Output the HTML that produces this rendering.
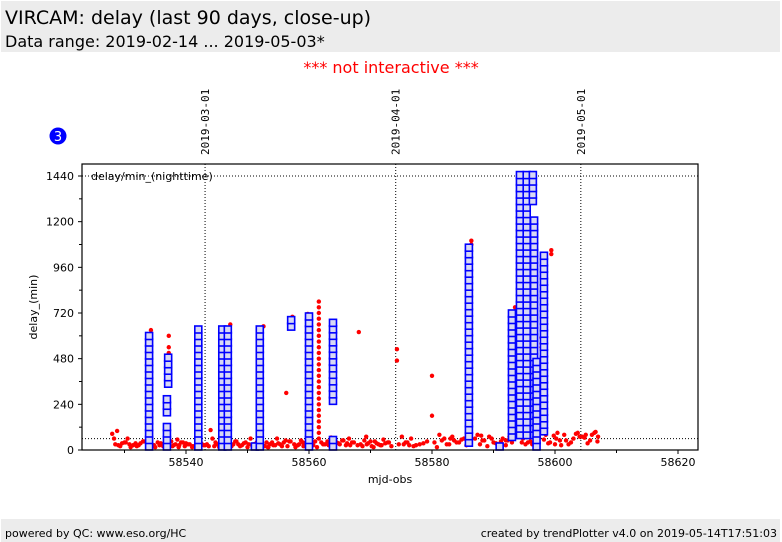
<!DOCTYPE html>
<html><head><meta charset="utf-8">
<style>
body{margin:0;width:782px;height:542px;background:#fff;font-family:"DejaVu Sans","Liberation Sans",sans-serif;position:relative;overflow:hidden}
#hdr{position:absolute;left:1px;top:1px;width:779px;height:51px;background:#ececec}
#t1{position:absolute;left:4px;top:6px;font-size:19px;color:#000}
#t2{position:absolute;left:4px;top:31px;font-size:16px;color:#000}
#ni{position:absolute;left:0;width:782px;top:58px;text-align:center;color:#f00;font-size:16px}
#ftr{position:absolute;left:1px;top:519px;width:779px;height:23px;background:#ececec;font-size:11px}
#fl{position:absolute;left:4px;top:8px}
#fr{position:absolute;right:3px;top:8px}
svg{position:absolute;left:0;top:0}
</style></head><body>
<div id="hdr">
<div id="t1">VIRCAM: delay (last 90 days, close-up)</div>
<div id="t2">Data range: 2019-02-14 ... 2019-05-03*</div>
</div>
<div id="ni">*** not interactive ***</div>
<svg id="chart" width="782" height="542"></svg>
<div id="ftr">
<span id="fl">powered by QC: www.eso.org/HC</span>
<span id="fr">created by trendPlotter v4.0 on 2019-05-14T17:51:03</span>
</div>
<script>
const xTicks=[58540,58560,58580,58600,58620];
const xMinor=[58530,58550,58570,58590,58610];
const yTicks=[0,240,480,720,960,1200,1440];
const yMinor=[120,360,600,840,1080,1320];
const dateMjd=[58543.1,58574.1,58604.2];
const dateLabels=["2019-03-01","2019-04-01","2019-05-01"];
const refLines=[1440,60];
// blue columns: mjd, min, max
const blueMjd=[58534.0,58536.9,58536.9,58537.1,58542.0,58545.9,58546.8,58551.2,58552.0,58557.1,58560.0,58563.9,58563.9,58586.0,58591.0,58593.0,58594.3,58595.4,58596.4,58596.6,58597.0,58598.2];
const blueMin=[0,0,180,330,0,0,0,0,0,630,0,0,240,20,0,50,60,60,1290,60,0,80];
const blueMax=[610,110,270,490,620,620,630,30,620,690,700,60,680,1070,10,730,1450,1440,1440,1190,460,1030];
// red points
const redMjd=[58528,58528.5,58529,58529.6,58530.2,58530.8,58531.4,58532,58532.6,58533.1,58533.7,58534.3,58534.8,58535.4,58536,58536.5,58537.2,58537.2,58537.2,58537.2,58537.8,58538.3,58538.9,58539.5,58540,58540.6,58541.1,58541.7,58542.3,58542.5,58542.9,58543.4,58544,58544.6,58545.1,58545.7,58546.2,58546.2,58546.2,58546.8,58547.2,58547.4,58548,58548.5,58549.1,58549.7,58550.2,58550.8,58551.4,58551.9,58552.5,58552.6,58553.1,58553.6,58554.2,58554.8,58555.3,58555.9,58556.3,58556.5,58557,58557.3,58557.3,58557.6,58558.2,58558.7,58559.3,58559.8,58559.9,58560.4,58561,58562,58562.6,58563.2,58564.5,58565,58565.6,58566.2,58566.7,58567.3,58568.1,58567.9,58568.4,58569,58569.6,58570.2,58570.7,58571.3,58571.8,58572.4,58573,58574.3,58574.3,58574.6,58575.1,58575.7,58576.3,58577,58578,58579.2,58580,58580,58580.4,58581.2,58582,58582.8,58583.6,58584.4,58585.2,58586,58586.4,58586.4,58587,58587.8,58588.5,58589.3,58590,58590.8,58591.5,58592.3,58593,58593.5,58593.5,58594,58594.8,58595.6,58596.3,58597,58597.8,58597.8,58597.8,58598.5,58599.2,58599.4,58599.4,58600,58600.8,58601.5,58602.2,58603,58603.7,58604.4,58605,58605.7,58606.4,58607,58528.3,58530.5,58533.4,58535.7,58538.6,58541.4,58544.3,58547.7,58550.5,58553.3,58556.2,58559,58563.6,58566.5,58569.3,58572.1,58576,58583,58588,58592,58596,58600.4,58604,58606.6,
58528.8,58529.3,58530,58531,58531.8,58532.3,58533,58534.6,58535,58535.9,58536.3,58537.6,58538,58538.8,58539.2,58539.8,58540.3,58541,58541.9,58543.1,58543.7,58544.8,58545.4,58547,58548.2,58548.8,58549.4,58550,58551,58551.6,58552.8,58553.4,58554,58554.5,58555,58555.6,58556.8,58557.8,58558.4,58559.1,58559.6,58560.7,58561.3,58562.3,58563,58564,58564.8,58565.4,58566,58567,58568.7,58569.4,58570,58570.5,58571,58571.6,58572.8,58573.4,58575.4,58576.6,58577.4,58578.6,58580.8,58581.6,58582.4,58583.3,58584,58584.8,58585.6,58587.4,58588.2,58589,58589.7,58590.4,58591.2,58592,58592.6,58594.6,58595.2,58597.4,58598.2,58598.9,58599.8,58600.2,58601,58601.8,58602.6,58603.4,58604.8,58605.3,58606,58606.9];
const redVal=[85,30,25,35,40,30,25,20,35,45,30,630,25,40,30,35,600,540,510,490,20,30,25,40,35,30,20,45,640,35,25,30,105,20,30,40,640,570,500,35,660,20,45,30,25,40,30,20,35,45,25,650,40,30,25,60,30,40,300,20,45,700,680,30,25,50,35,715,40,30,45,40,30,25,40,30,50,35,25,40,620,25,30,50,35,20,45,30,25,35,40,530,470,30,70,40,25,20,30,45,390,180,40,80,60,30,50,40,60,45,1100,1080,60,30,50,70,40,30,60,50,40,750,730,70,60,40,30,60,590,560,540,80,40,1050,1030,30,50,80,30,60,90,70,80,50,90,70,60,60,45,25,55,20,60,30,60,15,50,40,65,60,70,55,40,60,75,50,45,90,70,95,100,
20,40,15,35,25,45,20,15,35,20,45,25,15,40,20,30,15,45,25,20,40,15,25,45,20,35,15,30,45,20,15,40,25,35,20,45,15,30,20,40,25,15,30,45,20,35,50,25,40,20,30,45,15,35,25,40,20,30,60,25,35,15,50,30,70,40,55,25,80,50,20,60,35,45,25,70,40,30,65,55,35,75,60,25,50,40,85,65,35,80,45,70,55];
const colMjd=58561.6;
const colVals=[60,90,120,150,180,210,240,270,300,330,360,390,420,450,480,510,540,570,600,630,660,690,720,750,780];

const svg=document.getElementById('chart');
const NS='http://www.w3.org/2000/svg';
const L=82,R=698,T=164,B=450;
function X(m){return 186+(m-58540)*6.15;}
function Y(v){return 450-v*274/1440;}
function mk(tag,attrs,parent){const e=document.createElementNS(NS,tag);for(const k in attrs)e.setAttribute(k,attrs[k]);(parent||svg).appendChild(e);return e;}

let g=mk('g',{});


mk('circle',{cx:58,cy:136,r:8.5,fill:'#0000ff'},g);
let t=mk('text',{x:58,y:141,'text-anchor':'middle','font-size':13,fill:'#fff'},g);t.textContent='3';

refLines.forEach(v=>{const l=mk('line',{x1:L,x2:R,y1:Y(v),y2:Y(v),stroke:'#000','stroke-width':1,'stroke-dasharray':'1,2'});

});
dateMjd.forEach((m,i)=>{const l=mk('line',{x1:X(m),x2:X(m),y1:T,y2:B,stroke:'#000','stroke-width':1,'stroke-dasharray':'1,2'});


const tx=mk('text',{x:0,y:0,transform:`translate(${X(m)+4},155) rotate(-90)`,'font-size':11,'font-family':'DejaVu Sans Mono, Liberation Mono, monospace'});
tx.textContent=dateLabels[i];

});

for(let i=0;i<redMjd.length;i++){const c=mk('circle',{cx:X(redMjd[i]),cy:Y(redVal[i]),r:2.2,fill:'#ff0000'});

}
colVals.forEach(v=>{const c=mk('circle',{cx:X(colMjd),cy:Y(v),r:2.2,fill:'#ff0000'});

});

for(let i=0;i<blueMjd.length;i++){
  const x=X(blueMjd[i]);const y1=Y(blueMin[i]),y2=Y(blueMax[i]);
  for(let y=y1-3.5;y>=y2-3.5;y-=6.5){
    const r=mk('rect',{x:x-3.5,y:y-3.5,width:7,height:7,fill:'#d8d8f4',stroke:'#0000ff','stroke-width':1.6});
    
    
  }
}

let f=mk('rect',{x:L,y:T,width:R-L,height:B-T,fill:'none',stroke:'#000','stroke-width':1.2});


let lg=mk('text',{x:91,y:180,'font-size':11});lg.textContent='delay/min_(nighttime)';



xTicks.forEach(m=>{mk('line',{x1:X(m),x2:X(m),y1:B,y2:B+4,stroke:'#000'});
const tx=mk('text',{x:X(m),y:B+16,'text-anchor':'middle','font-size':11});tx.textContent=m;

});
xMinor.forEach(m=>mk('line',{x1:X(m),x2:X(m),y1:B,y2:B+3,stroke:'#000'}));
yTicks.forEach(v=>{mk('line',{x1:L-4,x2:L,y1:Y(v),y2:Y(v),stroke:'#000'});
const tx=mk('text',{x:L-8,y:Y(v)+4,'text-anchor':'end','font-size':11});tx.textContent=v;

});
yMinor.forEach(v=>mk('line',{x1:L-3,x2:L,y1:Y(v),y2:Y(v),stroke:'#000'}));
let xt=mk('text',{x:390,y:483,'text-anchor':'middle','font-size':11});xt.textContent='mjd-obs';


let yt=mk('text',{x:0,y:0,transform:'translate(37,307) rotate(-90)','text-anchor':'middle','font-size':11});yt.textContent='delay_(min)';


</script>
</body></html>
